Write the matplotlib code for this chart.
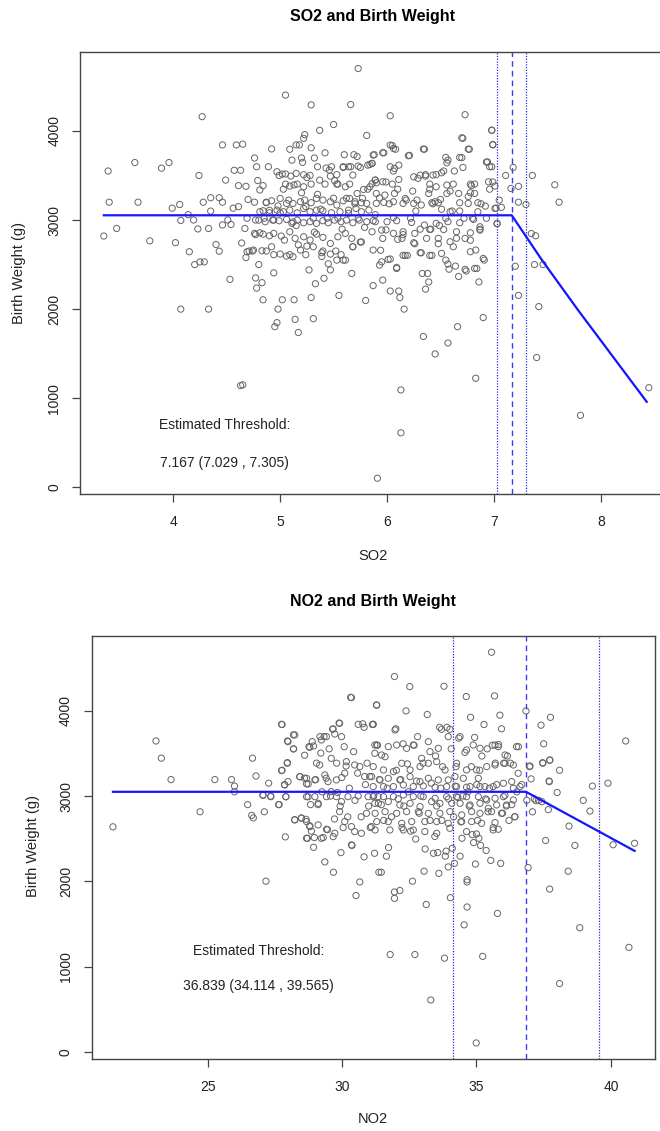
import numpy as np
import matplotlib.pyplot as plt

plt.rcParams['font.family'] = ['Liberation Sans', 'DejaVu Sans']

# SO2 panel, (so2, birth weight) pairs
so2_outer = [
    (3.35, 2820), (3.39, 3550), (3.40, 3200), (3.47, 2905), (3.64, 3645), (3.67, 3200),
    (3.78, 2766), (3.89, 3582), (3.96, 3645), (3.99, 3133), (4.02, 2746), (4.06, 3174),
    (4.07, 2995), (4.07, 2000), (4.14, 3060), (4.15, 2644), (4.19, 3000), (4.20, 2500),
    (4.23, 2900), (4.24, 3500), (4.25, 2530), (4.27, 4160), (4.28, 3200), (4.29, 2530),
    (4.33, 2905), (4.33, 2000), (4.35, 3250), (4.35, 3100), (4.40, 2725), (4.43, 2650),
    (4.43, 3250), (4.46, 3843), (4.46, 3200), (4.46, 2945), (4.49, 3448), (4.51, 3000),
    (4.53, 2334), (4.54, 2950), (4.56, 3133), (4.57, 3558), (4.59, 3843), (4.61, 3150),
    (4.61, 3386), (4.63, 1142), (4.65, 1150), (4.63, 3558), (4.65, 3851), (4.64, 2742),
    (4.68, 3378), (4.67, 2905), (4.68, 2579), (4.69, 3020), (4.70, 3231), (4.71, 2652),
    (4.74, 2652), (4.76, 3200), (4.76, 3696), (4.77, 3000), (4.77, 2836), (4.77, 2350),
    (4.78, 2236), (4.78, 3598), (4.79, 3443), (4.80, 2500), (4.81, 2856), (4.81, 3337),
    (4.81, 3093), (4.83, 2297), (4.84, 2105), (4.84, 3386), (4.85, 3020), (4.87, 2652),
    (4.87, 3200), (4.89, 3598), (4.90, 3109), (4.90, 2823), (4.92, 3798), (4.94, 3000),
    (4.94, 2407), (4.94, 2611), (4.95, 1803), (4.97, 1848), (4.98, 2000), (4.98, 3158),
    (4.99, 3500), (5.00, 3080),
    (5.02, 2105), (5.03, 3346), (5.04, 2774), (5.05, 4402), (5.05, 3517), (5.08, 3223),
    (5.09, 2611), (5.09, 3794), (5.11, 3672), (5.12, 2978), (5.13, 2105), (5.13, 3394),
    (5.14, 1885), (5.15, 3843), (5.15, 2938), (5.17, 2721), (5.17, 1738), (5.18, 3843),
    (5.20, 3305), (5.20, 3696), (5.21, 3647), (5.22, 3917), (5.23, 3958), (5.24, 2611),
    (5.24, 3150), (5.25, 3476), (5.27, 2440), (5.29, 2130), (5.29, 4292), (5.29, 3811),
    (5.31, 1893), (5.31, 3020), (5.32, 2864), (5.32, 3696), (5.33, 2285), (5.35, 3598),
    (5.35, 3288), (5.37, 4006), (5.38, 3121), (5.39, 2591), (5.40, 2652), (5.41, 2346),
    (5.42, 3754), (5.44, 3020), (5.45, 2509), (5.47, 2440), (5.48, 3598), (5.50, 4072),
    (5.50, 3244), (5.52, 2652), (5.53, 3509), (5.54, 3020), (5.55, 2154), (5.57, 2611),
    (5.58, 2897), (5.59, 3590), (5.60, 3733), (5.61, 2550), (5.62, 3244), (5.64, 3076),
    (5.66, 3598), (5.66, 4296), (5.67, 2400), (5.68, 2701), (5.69, 3733), (5.70, 3182),
    (5.72, 3713), (5.73, 4700), (5.73, 3020), (5.75, 3590), (5.76, 2754), (5.77, 3244),
    (5.79, 2917), (5.80, 2097), (5.81, 3949), (5.82, 3346), (5.84, 3623), (5.86, 3407),
    (5.87, 2264), (5.88, 3733), (5.89, 3060), (5.91, 102), (5.93, 3248), (5.94, 2660),
    (5.95, 2530), (5.96, 2326), (5.97, 3754), (5.99, 3427), (5.99, 2889),
    (6.02, 3182), (6.03, 2203), (6.03, 2562), (6.03, 4170), (6.05, 3835), (6.06, 3028),
    (6.06, 3550), (6.08, 3794), (6.09, 2456), (6.10, 2783), (6.10, 3346), (6.11, 2203),
    (6.12, 2130), (6.13, 612), (6.13, 1093), (6.15, 2836), (6.16, 2000), (6.17, 2603),
    (6.18, 3223), (6.19, 2603), (6.21, 3725), (6.22, 3020), (6.24, 3325), (6.26, 2734),
    (6.27, 3101), (6.29, 3468), (6.31, 2897), (6.32, 2632), (6.33, 2400), (6.34, 1693),
    (6.35, 3794), (6.36, 2224), (6.36, 3509), (6.38, 2400), (6.39, 2305), (6.40, 3346),
    (6.41, 2897), (6.42, 2603), (6.43, 3182), (6.45, 1497), (6.46, 3509), (6.48, 2734),
    (6.49, 2938), (6.50, 3231), (6.51, 3121), (6.53, 3550), (6.55, 2550), (6.55, 3020),
    (6.57, 3672), (6.57, 1620), (6.58, 2448), (6.59, 3325), (6.61, 3101), (6.63, 3550),
    (6.65, 2795), (6.66, 1803), (6.67, 2366), (6.68, 3101), (6.70, 3700), (6.71, 3917),
    (6.72, 3020), (6.73, 4182), (6.74, 2428), (6.76, 3264), (6.77, 3794), (6.78, 2774),
    (6.79, 3386), (6.80, 3020), (6.83, 1224), (6.84, 2456), (6.85, 3093), (6.86, 2305),
    (6.87, 2897), (6.88, 3182), (6.90, 1905), (6.91, 2550), (6.93, 3020), (6.94, 3652),
    (6.96, 3346), (6.98, 3598), (6.98, 4006), (6.99, 3843), (6.99, 3427), (7.02, 3133),
    (7.03, 2958), (7.05, 3223), (7.07, 3142), (7.11, 3500), (7.18, 3590), (7.16, 3354),
    (7.20, 2481), (7.23, 2154), (7.23, 3378), (7.23, 3200), (7.30, 3174), (7.36, 3500),
    (7.35, 2848), (7.39, 2823), (7.38, 2500), (7.46, 2500), (7.42, 2028), (7.40, 1457),
    (7.57, 3395), (7.61, 3200), (7.81, 808), (8.45, 1118),
]

so2_core_left = [
    (4.97, 3542), (5.02, 3515), (5.10, 3493), (5.15, 3523), (5.22, 3508), (5.28, 3500),
    (5.43, 3583), (5.46, 3560), (5.51, 3441), (5.54, 3403), (5.59, 3598), (5.64, 3598),
    (5.68, 3504), (5.73, 3605), (5.82, 3616), (5.86, 3635), (5.89, 3448),
    (5.05, 3403), (5.09, 3381), (5.16, 3403), (5.22, 3373), (5.29, 3403), (5.37, 3448),
    (5.42, 3403), (5.47, 3493), (5.53, 3403), (5.61, 3373), (5.65, 3403), (5.72, 3298),
    (5.78, 3343), (5.84, 3373), (5.90, 3418),
    (4.87, 3194), (4.92, 3216), (5.00, 3242), (5.06, 3186), (5.12, 3186), (5.19, 3205),
    (5.23, 3224), (5.29, 3194), (5.34, 3242), (5.40, 3224), (5.47, 3205), (5.53, 3168),
    (5.59, 3216), (5.65, 3242), (5.70, 3205), (5.76, 3194), (5.81, 3186),
    (4.84, 3104), (4.90, 3081), (4.97, 3111), (5.03, 3093), (5.09, 3111), (5.16, 3081),
    (5.22, 3130), (5.28, 3093), (5.34, 3111), (5.40, 3104), (5.48, 3081), (5.56, 3093),
    (5.64, 3111), (5.71, 3130), (5.76, 3093), (5.83, 3111),
    (4.80, 2999), (4.86, 2981), (4.93, 2999), (4.99, 2992), (5.06, 3007), (5.11, 2962),
    (5.16, 2999), (5.22, 2969), (5.28, 2981), (5.34, 2962), (5.40, 2992), (5.45, 2969),
    (5.51, 2999), (5.57, 2981), (5.62, 2999), (5.68, 2969), (5.74, 2999), (5.81, 2981),
    (5.87, 2992),
    (4.76, 2850), (4.84, 2842), (4.94, 2850), (5.01, 2820), (5.09, 2868), (5.14, 2794),
    (5.22, 2812), (5.28, 2775), (5.34, 2842), (5.40, 2805), (5.47, 2737), (5.54, 2812),
    (5.61, 2850), (5.67, 2794), (5.75, 2752),
    (4.69, 2644), (4.75, 2663), (4.83, 2655), (4.92, 2700), (5.00, 2618), (5.06, 2595),
    (5.12, 2588), (5.19, 2663), (5.25, 2707), (5.31, 2700), (5.39, 2633), (5.47, 2618),
    (5.53, 2550), (5.59, 2550), (5.68, 2700),
]

so2_core_right = [
    (5.87, 3729), (5.96, 3755), (6.03, 3841), (6.06, 3803), (6.20, 3721), (6.34, 3796),
    (5.86, 3635), (6.03, 3598), (6.07, 3579), (6.11, 3616), (6.55, 3702), (6.56, 3642),
    (6.68, 3702), (6.70, 3923), (6.76, 3796), (6.71, 3590), (6.93, 3650), (6.96, 3598),
    (6.98, 4009), (6.99, 3848),
    (5.89, 3448), (5.96, 3429), (6.05, 3403), (6.11, 3455), (6.25, 3485), (6.31, 3504),
    (6.36, 3493), (6.43, 3504), (6.51, 3530), (6.40, 3403), (6.46, 3373), (6.56, 3392),
    (6.62, 3403), (6.78, 3403), (6.82, 3403), (6.95, 3429), (7.01, 3381),
    (5.90, 3298), (5.98, 3280), (6.07, 3298), (6.17, 3242), (6.28, 3224), (6.39, 3298),
    (6.45, 3205), (6.56, 3298), (6.67, 3298), (6.78, 3306), (6.82, 3298),
    (5.90, 3186), (5.97, 3197), (6.06, 3205), (6.15, 3186), (6.25, 3186), (6.32, 3168),
    (6.42, 3194), (6.48, 3194), (6.59, 3093), (6.68, 3194), (6.76, 3186), (6.85, 3194),
    (6.92, 3156), (7.01, 3130),
    (5.89, 2981), (6.00, 2981), (6.09, 2992), (6.23, 2973), (6.35, 2943), (6.46, 2962),
    (6.57, 2981), (6.68, 2969), (6.81, 3007), (6.87, 2924),
    (5.86, 2868), (5.95, 2887), (6.06, 2850), (6.15, 2868), (6.26, 2850), (6.40, 2894),
    (6.53, 2894), (6.65, 2868), (6.78, 2857), (6.87, 2887), (7.03, 2962),
    (5.96, 2794), (6.14, 2794), (6.25, 2745), (6.37, 2794), (6.48, 2794), (6.59, 2756),
    (6.73, 2794), (6.83, 2663),
    (5.87, 2663), (6.01, 2558), (6.15, 2603), (6.31, 2633), (6.40, 2603), (6.51, 2625),
    (6.62, 2700), (6.78, 2644), (6.90, 2569),
    (5.93, 2494), (6.09, 2468), (6.57, 2506), (6.64, 2483), (6.73, 2446), (6.82, 2457),
]

so2_fit_x = [3.35, 7.167, 7.45, 7.79, 8.43]
so2_fit_y = [3053, 3053, 2550, 1985, 960]
so2_threshold = [7.029, 7.167, 7.305]

# NO2 panel, (no2, birth weight) pairs
no2_outer = [
    (21.48, 2640), (23.08, 3645), (23.28, 3444), (23.64, 3193), (24.72, 2816), (25.27, 3193),
    (25.89, 3193), (26.00, 3117), (26.00, 3050), (26.49, 2900), (26.64, 2774), (26.67, 3444),
    (26.70, 2744), (26.80, 3235), (27.06, 3008), (27.11, 2816), (27.17, 2003), (27.27, 3151),
    (27.35, 3000), (27.64, 2900), (27.77, 3302), (27.77, 3838), (27.86, 3134), (27.89, 2522),
    (27.91, 2992), (27.96, 3385), (27.99, 3637), (28.19, 3717), (28.19, 3553), (28.24, 2724),
    (28.43, 3226), (28.49, 2744), (28.60, 3210), (28.61, 3478), (28.66, 2728), (28.68, 3143),
    (28.71, 2506), (28.74, 2992), (28.77, 3578), (28.80, 2652), (28.83, 2900), (28.86, 2589),
    (28.89, 3637), (28.94, 2400), (28.97, 2514), (29.02, 3193), (29.05, 3385), (29.11, 2900),
    (29.18, 3696), (29.21, 3503), (29.25, 3050), (29.30, 2514), (29.33, 3696), (29.36, 2229),
    (29.41, 3210), (29.46, 2606), (29.52, 3553), (29.57, 3000), (29.65, 3784), (29.68, 2108),
    (29.72, 2732), (29.80, 3385), (29.83, 3042), (29.89, 3855), (29.93, 2883), (29.96, 2338),
    (29.99, 3218), (30.04, 2631), (30.08, 3578), (30.15, 3352), (30.21, 2757), (30.27, 3092),
    (30.32, 4156), (30.37, 2422), (30.43, 3520), (30.48, 2950), (30.52, 1835), (30.58, 3268),
    (30.66, 1994), (30.71, 2757), (30.77, 3846), (30.82, 2288), (30.87, 3134), (30.93, 3385),
    (30.99, 2883), (31.05, 2631), (31.13, 3838), (31.18, 3008), (31.21, 2330), (31.29, 4064),
    (31.32, 3595), (31.37, 2108), (31.46, 2108), (31.39, 3193), (31.46, 2900), (31.55, 2715),
    (31.60, 3461), (31.65, 2296), (31.68, 3092), (31.73, 2397), (31.79, 1144), (31.84, 2757),
    (31.95, 1802), (31.95, 1877), (31.95, 4400), (32.00, 3788), (32.02, 3302), (32.09, 2967),
    (32.15, 1894), (32.18, 3193), (32.23, 2631), (32.27, 3612), (32.30, 2883), (32.38, 3997),
    (32.43, 3377), (32.46, 3050), (32.52, 4282), (32.55, 2589), (32.62, 2003), (32.68, 3595),
    (32.71, 1144), (32.74, 2497), (32.77, 3176), (32.81, 3696), (32.87, 2799), (32.93, 3000),
    (33.01, 3385), (33.05, 2120), (33.09, 2380), (33.13, 1730), (33.17, 3955), (33.21, 3637),
    (33.27, 2715), (33.30, 612), (33.32, 3151), (33.40, 2330), (33.45, 2527), (33.48, 3469),
    (33.52, 2883), (33.56, 2338), (33.60, 2095), (33.63, 3805), (33.67, 3092), (33.71, 2715),
    (33.74, 3344), (33.79, 4286), (33.81, 1102), (33.84, 2296), (33.87, 2355), (33.90, 3805),
    (33.95, 2170), (33.96, 2967), (34.03, 1810), (34.06, 3553), (34.10, 2388), (34.15, 2757),
    (34.18, 2212), (34.21, 3117), (34.24, 3344), (34.31, 2983), (34.34, 3679), (34.39, 2296),
    (34.42, 2698), (34.46, 2506), (34.49, 3000), (34.54, 1492), (34.57, 3511), (34.62, 4165),
    (34.65, 1701), (34.65, 2020), (34.65, 1994), (34.68, 3050), (34.73, 2883), (34.78, 3922),
    (34.81, 3344), (34.84, 2548), (34.89, 2455), (34.93, 3687), (34.96, 2204), (34.99, 109),
    (35.01, 3134), (35.04, 2715), (35.09, 2506), (35.12, 3302), (35.15, 2422), (35.20, 3469),
    (35.23, 1123), (35.28, 3838), (35.34, 2967), (35.36, 2363), (35.40, 3553), (35.43, 2816),
    (35.48, 3092), (35.53, 2246), (35.56, 4684), (35.59, 3595), (35.62, 2631), (35.67, 4173),
    (35.70, 3385), (35.75, 3134), (35.78, 1626), (35.82, 3603), (35.87, 3947), (35.90, 2212),
    (35.93, 3788), (35.97, 2799), (36.01, 3385), (36.06, 3008), (36.11, 2883), (36.15, 3469),
    (36.21, 2715), (36.26, 3385), (36.31, 2900), (36.37, 3092), (36.42, 2757), (36.50, 3050),
    (36.56, 3578), (36.68, 3134), (36.84, 3997), (36.87, 2950), (36.92, 2162), (36.97, 3344),
    (37.03, 3201), (37.08, 2816), (37.15, 2967), (37.31, 2950), (37.40, 3830), (37.47, 3385),
    (37.50, 3612), (37.57, 2480), (37.67, 2841), (37.70, 3176), (37.72, 1911), (37.72, 3419),
    (37.75, 3922), (38.00, 3042), (38.09, 3302), (38.09, 804), (38.41, 2120), (38.44, 2648),
    (38.66, 2422), (38.84, 1458), (38.97, 2950), (39.22, 2824), (39.31, 3117), (39.89, 3151),
    (40.08, 2430), (40.55, 3645), (40.67, 1228), (40.88, 2447),
    (37.46, 3391), (37.73, 3423), (37.71, 3169), (37.21, 2946), (37.43, 2934), (36.99, 3352),
]

no2_core_left = [
    (27.75, 3840), (27.97, 3645), (28.24, 3716), (28.20, 3552), (28.80, 3571), (28.94, 3587),
    (29.23, 3657), (29.42, 3696), (29.67, 3786), (29.73, 3727), (29.91, 3852), (29.98, 3696),
    (30.60, 3840), (30.82, 3805), (31.15, 3840), (31.28, 4067), (30.35, 4153),
    (27.75, 3298), (27.97, 3392), (27.87, 3130), (27.99, 3169), (28.43, 3228), (28.68, 3208),
    (28.74, 3142), (28.99, 3189), (29.17, 3364), (29.36, 3247), (29.48, 3169), (29.60, 3442),
    (29.79, 3189), (30.10, 3267), (30.16, 3403), (30.47, 3364), (30.66, 3345), (30.84, 3228),
    (31.03, 3228), (31.22, 3598), (31.22, 3501),
    (27.06, 3013), (27.35, 2993), (27.91, 2993), (28.68, 2993), (28.99, 2993), (29.11, 2915),
    (29.42, 2993), (29.60, 3052), (29.79, 2993), (29.98, 2935), (30.22, 2993), (30.60, 3001),
    (30.97, 2993), (31.22, 2915), (27.66, 2900),
    (28.24, 2720), (28.49, 2740), (28.68, 2701), (28.80, 2642), (29.11, 2662), (29.42, 2611),
    (29.73, 2564), (29.91, 2818), (30.10, 2701), (30.35, 2642), (30.47, 2584), (30.72, 2564),
    (30.91, 2798), (31.09, 2642), (31.34, 2993), (29.67, 2525), (30.35, 2428), (28.68, 2506),
    (29.23, 2506),
]

no2_core_right = [
    (31.16, 3840), (31.29, 3598), (31.47, 3481), (31.72, 3579), (31.97, 3774), (32.03, 3598),
    (32.40, 3559), (32.65, 3598), (32.96, 3442), (33.27, 3520), (33.58, 3559), (33.70, 3782),
    (34.01, 3782), (33.95, 3696), (34.39, 3696), (34.63, 3540), (34.88, 3598), (35.13, 3559),
    (35.69, 3598), (35.81, 3579), (36.06, 3481), (36.49, 3579),
    (31.16, 3345), (31.54, 3306), (31.91, 3286), (32.22, 3384), (32.53, 3306), (32.90, 3345),
    (33.21, 3384), (33.52, 3403), (33.83, 3306), (34.26, 3384), (34.63, 3306), (35.00, 3306),
    (35.38, 3345), (35.69, 3364), (36.06, 3384), (36.37, 3364), (36.55, 3267),
    (31.10, 3228), (31.41, 3189), (31.72, 3208), (32.15, 3189), (32.53, 3228), (32.90, 3169),
    (33.21, 3208), (33.58, 3189), (33.95, 3189), (34.20, 3228), (34.51, 3208), (34.76, 3111),
    (35.07, 3208), (35.31, 3111), (35.62, 3111), (36.00, 3150), (36.31, 3169), (36.62, 3111),
    (31.16, 3111), (31.54, 3111), (31.91, 3111), (32.28, 3130), (32.65, 3111), (33.02, 3118),
    (33.46, 3103), (33.89, 3111), (34.26, 3111), (34.63, 3103), (35.13, 3111),
    (31.16, 2993), (31.54, 2993), (31.91, 2993), (32.28, 3013), (32.65, 2993), (33.02, 2993),
    (33.46, 2974), (33.89, 2993), (34.26, 2993), (34.63, 2993), (35.07, 2993), (35.38, 2954),
    (35.69, 2974), (36.00, 2993), (36.37, 2954),
    (31.35, 2915), (31.72, 2935), (32.15, 2896), (32.53, 2915), (32.90, 2876), (33.33, 2935),
    (33.64, 2915), (34.08, 2915), (34.39, 2915), (34.76, 2896), (35.13, 2915), (35.44, 2857),
    (35.75, 2896), (36.12, 2896), (36.43, 2759),
    (31.23, 2798), (31.60, 2818), (32.03, 2798), (32.40, 2818), (32.84, 2818), (33.21, 2798),
    (33.64, 2798), (34.01, 2818), (34.45, 2779), (34.82, 2818), (35.13, 2798), (35.56, 2818),
    (35.93, 2798),
    (31.29, 2701), (31.72, 2701), (32.22, 2681), (32.59, 2701), (33.08, 2701), (33.52, 2701),
    (33.95, 2681), (34.45, 2701), (34.82, 2701), (35.19, 2681), (35.69, 2689),
    (31.23, 2603), (31.78, 2603), (32.28, 2603), (32.65, 2603), (33.08, 2584), (33.52, 2564),
    (34.01, 2623), (34.63, 2584), (35.00, 2556), (35.62, 2603), (35.81, 2611),
]

no2_fit_x = [21.48, 36.839, 40.88]
no2_fit_y = [3050, 3050, 2358]
no2_threshold = [34.114, 36.839, 39.565]

W, H = 660, 1131
fig = plt.figure(figsize=(W / 100, H / 100), dpi=100)


def box(left, top, right, bottom):
    return [left / W, 1 - bottom / H, (right - left) / W, (bottom - top) / H]


def draw_panel(ax, points, fit_x, fit_y, thr, label_xy, label_text):
    x, y = np.array(points).T
    ax.scatter(x, y, s=20, facecolors='none', edgecolors='#656565', linewidths=0.7, zorder=2)
    ax.plot(fit_x, fit_y, color='#1414ff', lw=1.6, zorder=3)
    ax.axvline(thr[0], color='#2828d8', lw=0.9, ls=(0, (1, 1.2)), zorder=1)
    ax.axvline(thr[1], color='#3b3bff', lw=1.0, ls=(0, (4, 3)), zorder=1)
    ax.axvline(thr[2], color='#2828d8', lw=0.9, ls=(0, (1, 1.2)), zorder=1)
    ax.text(label_xy[0], label_xy[1], 'Estimated Threshold:', ha='center', va='center',
            fontsize=10, color='#222222')
    ax.text(label_xy[0], label_xy[2], label_text, ha='center', va='center',
            fontsize=10, color='#222222')
    ax.set_yticks([0, 1000, 2000, 3000, 4000])
    ax.tick_params(length=6, width=0.9, color='#444444', labelsize=10,
                   labelcolor='#222222')
    ax.tick_params(axis='x', pad=9)
    ax.tick_params(axis='y', pad=7.5, labelrotation=90)
    for lab in ax.get_yticklabels():
        lab.set_va('center')
    for sp in ax.spines.values():
        sp.set_color('#444444')
        sp.set_linewidth(1.0)


# top panel: right edge of the frame falls just outside the picture
ax1 = fig.add_axes(box(80, 51.7, 670, 494))
draw_panel(ax1, so2_outer + so2_core_left + so2_core_right, so2_fit_x, so2_fit_y,
           so2_threshold, (4.48, 694, 278), '7.167 (7.029 , 7.305)')
ax1.set_xlim(3.127, 8.648)
ax1.set_ylim(-75, 4889)
ax1.set_xticks([4, 5, 6, 7, 8])

ax2 = fig.add_axes(box(91.7, 636.2, 654.5, 1059))
draw_panel(ax2, no2_outer + no2_core_left + no2_core_right, no2_fit_x, no2_fit_y,
           no2_threshold, (26.9, 1186, 780), '36.839 (34.114 , 39.565)')
ax2.set_xlim(20.69, 41.62)
ax2.set_ylim(-79, 4872)
ax2.set_xticks([25, 30, 35, 40])

fig.text(373 / W, 1 - 17 / H, 'SO2 and Birth Weight', ha='center', va='center',
         fontsize=11.5, fontweight='bold')
fig.text(373 / W, 1 - 601.5 / H, 'NO2 and Birth Weight', ha='center', va='center',
         fontsize=11.5, fontweight='bold')
fig.text(373 / W, 1 - 556 / H, 'SO2', ha='center', va='center', fontsize=10.5, color='#222222')
fig.text(373 / W, 1 - 1119 / H, 'NO2', ha='center', va='center', fontsize=10.5, color='#222222')
fig.text(19 / W, 1 - 273 / H, 'Birth Weight (g)', rotation=90, ha='center', va='center',
         fontsize=10.5, color='#222222')
fig.text(33 / W, 1 - 846 / H, 'Birth Weight (g)', rotation=90, ha='center', va='center',
         fontsize=10.5, color='#222222')

fig.savefig('out.png', dpi=100)
